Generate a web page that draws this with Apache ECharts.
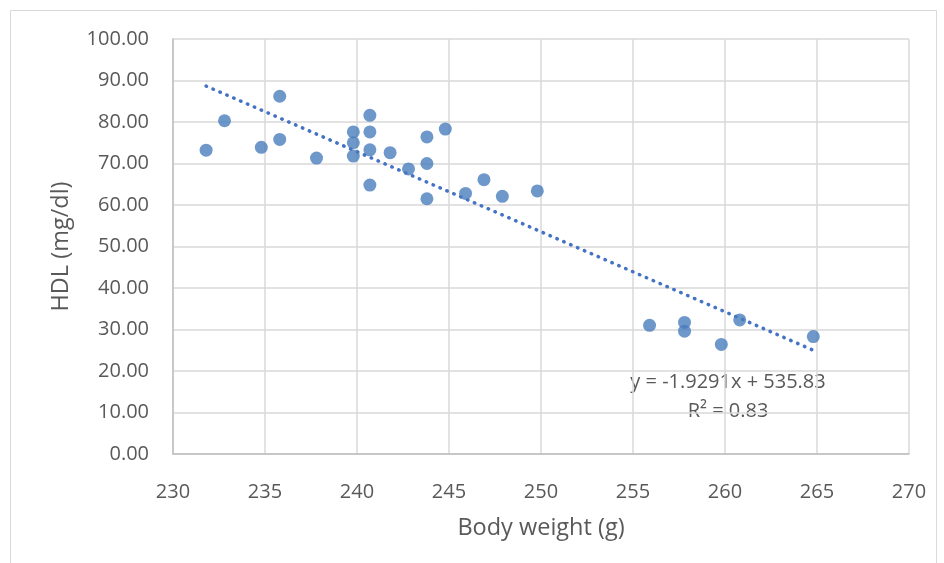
<!DOCTYPE html>
<html>
<head>
<meta charset="utf-8">
<script src="https://cdn.jsdelivr.net/npm/echarts@6/dist/echarts.min.js"></script>
<style>
  html, body { margin: 0; padding: 0; background: #fff; }
  #chart { width: 944px; height: 563px; }
</style>
</head>
<body>
<div id="chart"></div>
<script>
// body weight (g) vs HDL (mg/dl)
const bodyWeight = [231.8, 232.8, 234.8, 235.8, 235.8, 237.8, 239.8, 239.8, 239.8,
  240.7, 240.7, 240.7, 240.7, 241.8, 242.8, 243.8, 243.8, 243.8, 244.8, 245.9,
  246.9, 247.9, 249.8, 255.9, 257.8, 257.8, 259.8, 260.8, 264.8];
const hdl = [73.2, 80.3, 73.9, 86.2, 75.8, 71.3, 77.6, 75.0, 71.8,
  81.6, 77.6, 73.3, 64.8, 72.6, 68.7, 76.4, 70.0, 61.5, 78.3, 62.8,
  66.1, 62.1, 63.4, 31.0, 31.7, 29.6, 26.4, 32.3, 28.3];
// linear trendline as shown on the chart
const slope = -1.9291;
const intercept = 535.83;
const rSquared = 0.83;

const points = bodyWeight.map((x, i) => [x, hdl[i]]);
const xMin = Math.min(...bodyWeight);
const xMax = Math.max(...bodyWeight);
const trend = [[xMin, slope * xMin + intercept], [xMax, slope * xMax + intercept]];

const font = "'Open Sans', 'Noto Sans', sans-serif";
const textColor = "#595959";

let myChart = echarts.init(document.getElementById("chart"));
let option = {
  backgroundColor: "#fff",
  animation: false,
  textStyle: { fontFamily: font },
  graphic: [
    {
      type: "rect",
      shape: { x: 10.5, y: 10.5, width: 926, height: 570 },
      style: { fill: null, stroke: "#d9d9d9", lineWidth: 1 },
      silent: true,
    },
    {
      type: "text",
      style: {
        x: 728, y: 382,
        text: "y = -1.9291x + 535.83",
        fill: textColor, font: "20px " + font,
        textAlign: "center", textVerticalAlign: "middle",
      },
    },
    {
      type: "text",
      style: {
        x: 728, y: 411,
        text: "R² = " + rSquared.toFixed(2),
        fill: textColor, font: "20px " + font,
        textAlign: "center", textVerticalAlign: "middle",
      },
    },
  ],
  grid: { left: 173, right: 35, top: 39, bottom: 109 },
  xAxis: {
    type: "value",
    min: 230,
    max: 270,
    interval: 5,
    name: "Body weight (g)",
    nameLocation: "middle",
    nameGap: 62,
    nameTextStyle: { color: textColor, fontSize: 23.5, fontFamily: font },
    axisLine: { show: true, onZero: false, lineStyle: { color: "#bfbfbf", width: 1.5 } },
    axisTick: { show: false },
    axisLabel: { color: textColor, fontSize: 20, margin: 28 },
    splitLine: { show: true, lineStyle: { color: "#d9d9d9", width: 1.5 } },
  },
  yAxis: {
    type: "value",
    min: 0,
    max: 100,
    interval: 10,
    name: "HDL (mg/dl)",
    nameLocation: "middle",
    nameGap: 100,
    nameTextStyle: { color: textColor, fontSize: 23.5, fontFamily: font },
    axisLine: { show: true, lineStyle: { color: "#bfbfbf", width: 1.5 } },
    axisTick: { show: false },
    axisLabel: {
      color: textColor, fontSize: 20, margin: 24,
      formatter: (v) => v.toFixed(2),
    },
    splitLine: { show: true, lineStyle: { color: "#d9d9d9", width: 1.5 } },
  },
  series: [
    {
      name: "HDL",
      type: "scatter",
      symbolSize: 13,
      itemStyle: { color: "#4a7dbd" },
      data: points,
      z: 3,
    },
    {
      name: "Trend",
      type: "line",
      showSymbol: false,
      symbol: "none",
      lineStyle: { color: "#4472c4", width: 3.5, type: [0.5, 7], cap: "round" },
      data: trend,
      z: 2,
    },
  ],
};
myChart.setOption(option);
</script>
</body>
</html>
